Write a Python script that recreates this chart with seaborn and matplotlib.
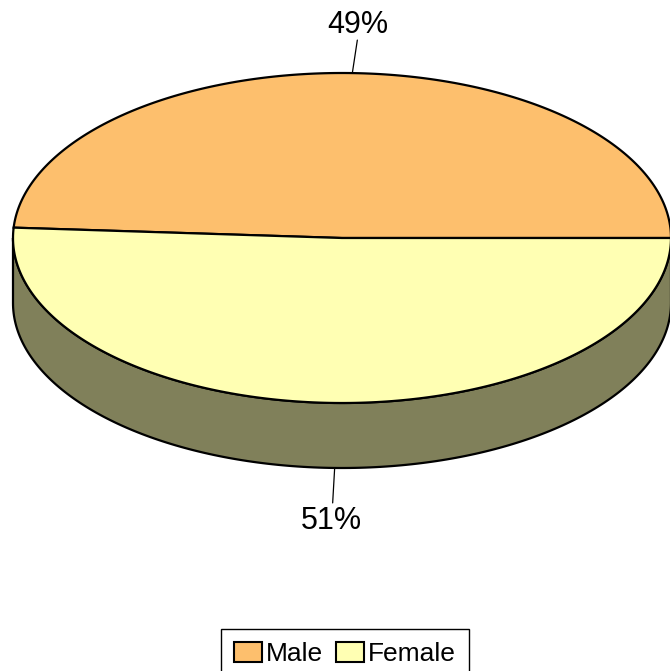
# gender_pie.py
'''3D-looking pie of gender split, drawn on a pixel-sized axes'''

import matplotlib
matplotlib.use('Agg')
import matplotlib.pyplot as plt
from matplotlib.patches import Patch, Polygon
import numpy as np
import seaborn as sns

# chart data
genders = ['Male', 'Female']
shares = [49, 51]
slice_colors = ['#FDBF6D', '#FFFFB3']

sns.set_style('white')
plt.rcParams['font.family'] = ['Liberation Sans', 'DejaVu Sans']
plt.rcParams['text.color'] = 'black'

fig = plt.figure(figsize=(6.7, 6.71), dpi=100)
ax = fig.add_axes([0, 0, 1, 1])
ax.set_xlim(0, 670)
ax.set_ylim(671, 0)
ax.axis('off')

# ellipse geometry (pixels)
cx, cy, rx, ry, depth = 342, 238, 329, 165, 65


def rim(t):
    '''point on top face for angle t (degrees, counter-clockwise from right)'''
    r = np.radians(t)
    return cx + rx * np.cos(r), cy - ry * np.sin(r)


# side wall: front half of the ellipse, shaded darker than the front slice
side_color = tuple(0.5 * np.array(matplotlib.colors.to_rgb(slice_colors[1])))
t = np.linspace(180, 360, 200)
xs, ys = rim(t)
side = np.vstack([np.column_stack([xs, ys]),
                  np.column_stack([xs[::-1], ys[::-1] + depth])])
ax.add_patch(Polygon(side, closed=True, facecolor=side_color,
                     edgecolor='black', lw=1.6, zorder=1))

# top face slices
bounds = np.cumsum([0] + shares) / sum(shares) * 360
for i, share in enumerate(shares):
    t = np.linspace(bounds[i], bounds[i + 1], 200)
    xs, ys = rim(t)
    pts = np.vstack([[cx, cy], np.column_stack([xs, ys])])
    ax.add_patch(Polygon(pts, closed=True, facecolor=slice_colors[i],
                         edgecolor='black', lw=1.6, zorder=2))

    # percentage label with leader line
    mid = (bounds[i] + bounds[i + 1]) / 2
    mx, my = rim(mid)
    if np.sin(np.radians(mid)) > 0:
        ax.plot([mx, mx + 5], [my, my - 33], color='black', lw=0.9, zorder=3)
        ax.text(mx + 5, my - 48, f'{share}%', ha='center', va='center',
                fontsize=22, color='black', zorder=3)
    else:
        my += depth
        ax.plot([mx + 3, mx + 1], [my, my + 35], color='black', lw=0.9, zorder=3)
        ax.text(mx, my + 53, f'{share}%', ha='center', va='center',
                fontsize=22, color='black', zorder=3)

handles = [Patch(facecolor=c, edgecolor='black', lw=1.5, label=g)
           for g, c in zip(genders, slice_colors)]
leg = fig.legend(handles=handles, loc='upper center', ncol=2,
                 bbox_to_anchor=(0.515, 1 - 629 / 671), fontsize=19,
                 frameon=True, fancybox=False, framealpha=1,
                 handlelength=1.05, handleheight=0.75, handletextpad=0.15,
                 columnspacing=0.5, borderpad=0.5, borderaxespad=0,
                 labelcolor='black')
leg.get_frame().set_edgecolor('black')
leg.get_frame().set_linewidth(1.0)

fig.savefig('out.png', dpi=100)
